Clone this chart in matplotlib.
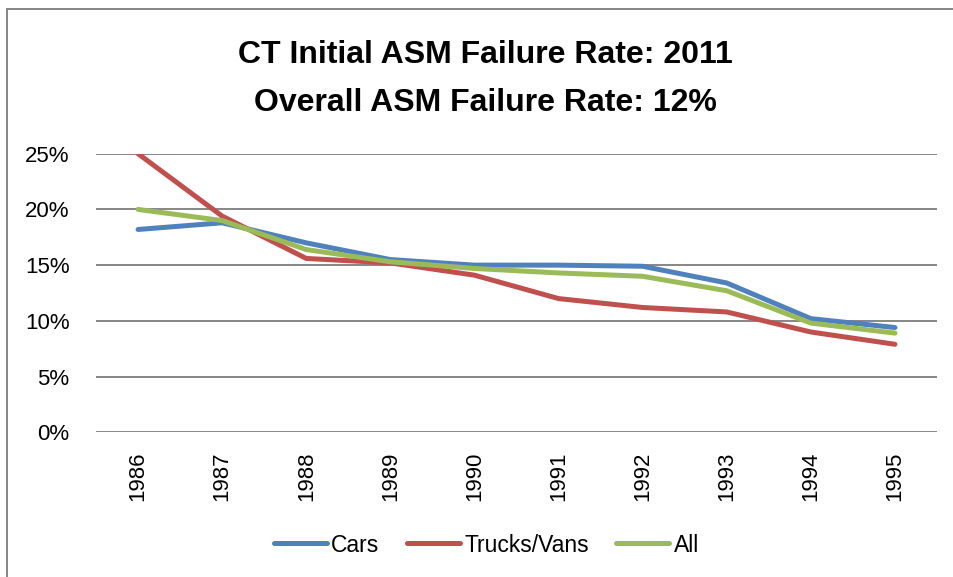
import matplotlib
matplotlib.use("Agg")
import matplotlib.pyplot as plt
from matplotlib.patches import Rectangle
from matplotlib.ticker import FuncFormatter

years = ["1986", "1987", "1988", "1989", "1990", "1991", "1992", "1993", "1994", "1995"]
cars = [18.2, 18.8, 17.0, 15.5, 15.0, 15.0, 14.9, 13.4, 10.2, 9.4]
trucks_vans = [25.0, 19.4, 15.6, 15.2, 14.1, 12.0, 11.2, 10.8, 9.0, 7.9]
all_vehicles = [20.0, 19.0, 16.4, 15.3, 14.7, 14.3, 14.0, 12.7, 9.8, 8.9]
y_ticks = [0, 5, 10, 15, 20, 25]

plt.rcParams['font.family'] = ['Liberation Sans', 'DejaVu Sans']

fig = plt.figure(figsize=(9.54, 5.77), dpi=100)
ax = fig.add_axes([96 / 954, 1 - 432.3 / 577, (937 - 96) / 954, (432.3 - 153.7) / 577])

x = range(len(years))
ax.plot(x, cars, color="#4F81BD", lw=3.6, solid_capstyle="round", label="Cars", zorder=3)
ax.plot(x, trucks_vans, color="#C0504D", lw=3.6, solid_capstyle="round", label="Trucks/Vans", zorder=3)
ax.plot(x, all_vehicles, color="#9BBB59", lw=3.6, solid_capstyle="round", label="All", zorder=3)

ax.set_xlim(-0.5, 9.5)
ax.set_ylim(0, 25)
ax.set_yticks(y_ticks)
ax.yaxis.set_major_formatter(FuncFormatter(lambda v, p: f"{v:.0f}%"))
ax.set_xticks(list(x))
ax.set_xticklabels(years, rotation=90, fontsize=16)
ax.tick_params(axis="y", length=0, pad=19, labelsize=16)
ax.tick_params(axis="x", length=0, pad=14)
ax.grid(axis="y", color="#868686", lw=1.4)
ax.set_axisbelow(True)
for s in ax.spines.values():
    s.set_visible(False)

fig.text(0.509, 1 - 55 / 577, "CT Initial ASM Failure Rate: 2011", ha="center", va="center",
         fontsize=23, fontweight="bold")
fig.text(0.509, 1 - 103 / 577, "Overall ASM Failure Rate: 12%", ha="center", va="center",
         fontsize=23, fontweight="bold")

fig.legend(loc="center", bbox_to_anchor=(0.51, 1 - 545 / 577), ncol=3, frameon=False,
           fontsize=16.5, handlelength=2.3, handletextpad=0.2, columnspacing=1.2)

fig.patches.append(Rectangle((7 / 954, -0.05), 1.0, 1 - 9 / 577 + 0.05, transform=fig.transFigure,
                             fill=False, edgecolor="#868686", lw=1.4))

plt.savefig("out.png", dpi=100)
